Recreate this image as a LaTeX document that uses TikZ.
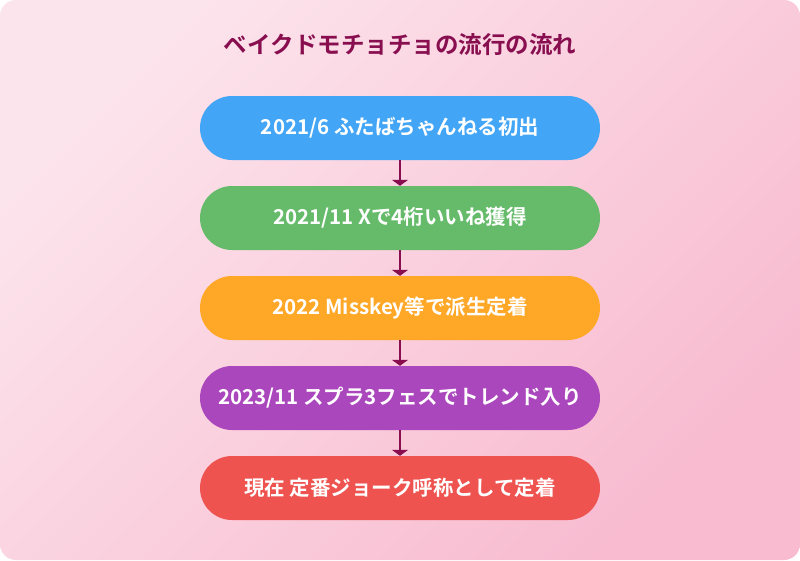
\documentclass[tikz,border=0pt]{standalone}
\usepackage{fontspec}
\setmainfont{Noto Sans CJK JP}[BoldFont={* Bold}]
\usetikzlibrary{arrows.meta}
\definecolor{ttl}{HTML}{880E4F}
\definecolor{bgA}{HTML}{FCE4EC}
\definecolor{bgB}{HTML}{F8BBD0}
\definecolor{cA}{HTML}{42A5F5}
\definecolor{cB}{HTML}{66BB6A}
\definecolor{cC}{HTML}{FFA726}
\definecolor{cD}{HTML}{AB47BC}
\definecolor{cE}{HTML}{EF5350}
\tikzset{stepbox/.style={draw=none,rounded corners=32pt,minimum width=400pt,minimum height=64pt,text=white,font=\bfseries\fontsize{20.5}{24}\selectfont,inner sep=0pt},
 conn/.style={draw=ttl,line width=2pt,-{Triangle[width=16pt,length=6pt]}}}
\begin{document}
\begin{tikzpicture}[x=1pt,y=-1pt]
\useasboundingbox (0,0) rectangle (800,560);
\shade[top color=bgA,bottom color=bgB,shading angle=45,rounded corners=16pt] (0,0) rectangle (800,560);
\node[text=ttl,font=\bfseries\fontsize{23.5}{28}\selectfont] (t) at (400,45) {ベイクドモチョチョの流行の流れ};
\node[stepbox,fill=cA] (a) at (400,128) {2021/6 ふたばちゃんねる初出};
\node[stepbox,fill=cB] (b) at (400,218) {2021/11 Xで4桁いいね獲得};
\node[stepbox,fill=cC] (c) at (400,308) {2022 Misskey等で派生定着};
\node[stepbox,fill=cD] (d) at (400,398) {2023/11 スプラ3フェスでトレンド入り};
\node[stepbox,fill=cE] (e) at (400,488) {現在 定番ジョーク呼称として定着};
\draw[conn] (a) -- (b);
\draw[conn] (b) -- (c);
\draw[conn] (c) -- (d);
\draw[conn] (d) -- (e);
\end{tikzpicture}
\end{document}
